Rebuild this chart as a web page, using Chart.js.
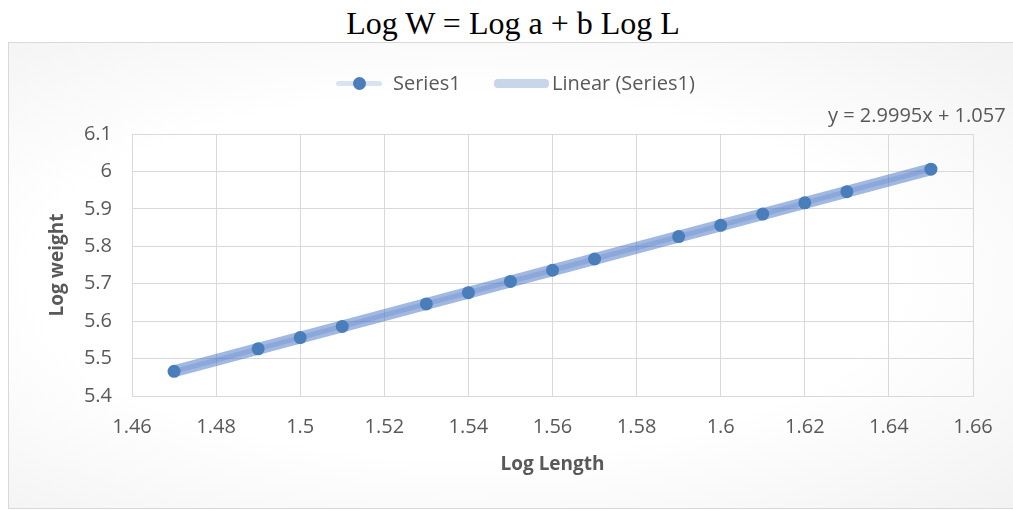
<!DOCTYPE html>
<html>
<head>
<meta charset="utf-8">
<script src="https://cdn.jsdelivr.net/npm/chart.js@4"></script>
<style>
    html, body { margin: 0; padding: 0; background: #fff; overflow: hidden; width: 1013px; height: 510px; }
    #titulo {
        position: absolute; left: 0; top: 5px; width: 1026px; text-align: center;
        font-family: "Liberation Serif", "Times New Roman", serif; font-size: 32px; color: #000;
    }
    #caixa {
        position: absolute; left: 8px; top: 42px; width: 1012px; height: 467px;
        border: 1px solid #d9d9d9; box-sizing: border-box;
        background: radial-gradient(ellipse at 45% 50%, #ffffff 55%, #f2f2f2 100%);
    }
    #legenda {
        position: absolute; left: -1px; top: 27px; width: 100%; height: 26px;
        font-family: "Open Sans", sans-serif; font-size: 20px; color: #595959;
    }
    .item { position: absolute; top: 0; line-height: 26px; }
    .linha { position: absolute; border-radius: 4px; }
</style>
</head>
<body>
<div id="titulo">Log W = Log a + b Log L</div>
<div id="caixa">
    <canvas id="grafico" width="1010" height="466"></canvas>
    <div id="legenda">
        <div class="linha" style="left:328px; top:11px; width:46px; height:5px; background:#dae3f1;"></div>
        <div class="linha" style="left:345px; top:7px; width:13px; height:13px; border-radius:50%; background:#4a7ebb;"></div>
        <div class="item" style="left:385px;">Series1</div>
        <div class="linha" style="left:486px; top:9px; width:55px; height:9px; background:#c9d6ea;"></div>
        <div class="item" style="left:544px;">Linear (Series1)</div>
    </div>
</div>
<script>
// valores
const logLength = [1.47, 1.49, 1.50, 1.51, 1.53, 1.54, 1.55, 1.56, 1.57, 1.59, 1.60, 1.61, 1.62, 1.63, 1.65];
const logWeight = [5.466, 5.526, 5.556, 5.586, 5.646, 5.676, 5.706, 5.736, 5.766, 5.826, 5.856, 5.886, 5.916, 5.946, 6.006];
const trendX = [1.47, 1.65];
const trendY = [5.466, 6.006];
const equacao = "y = 2.9995x + 1.057";

const fonte = { family: "Open Sans, sans-serif", size: 20 };
const cinza = "#595959";

const pontos = logLength.map((x, i) => ({ x: x, y: logWeight[i] }));
const tendencia = trendX.map((x, i) => ({ x: x, y: trendY[i] }));

// texto da equação da linha de tendência
const equacaoPlugin = {
    id: "equacao",
    afterDraw(chart) {
        const c = chart.ctx;
        c.save();
        c.font = "20px Open Sans, sans-serif";
        c.fillStyle = cinza;
        c.textBaseline = "middle";
        c.fillText(equacao, 819, 73);
        c.restore();
    }
};

const ctx = document.getElementById("grafico").getContext("2d");
new Chart(ctx, {
    type: "scatter",
    data: {
        datasets: [
            {
                label: "Linear (Series1)",
                data: tendencia,
                showLine: true,
                borderColor: "rgba(68,114,196,0.5)",
                borderWidth: 12,
                pointRadius: 0,
                order: 2
            },
            {
                label: "Series1",
                data: pontos,
                showLine: true,
                borderColor: "rgba(68,114,196,0.22)",
                borderWidth: 5,
                pointRadius: 6.5,
                pointBackgroundColor: "#4a7ebb",
                pointBorderWidth: 0,
                order: 1
            }
        ]
    },
    plugins: [equacaoPlugin],
    options: {
        responsive: false,
        animation: false,
        layout: { padding: { top: 91, right: 46, bottom: 0, left: 0 } },
        plugins: {
            legend: { display: false },
            tooltip: { enabled: false }
        },
        scales: {
            x: {
                type: "linear",
                min: 1.46,
                max: 1.66,
                afterFit: (s) => { s.height = 113; },
                ticks: { stepSize: 0.02, color: cinza, font: fonte, padding: 19, maxRotation: 0,
                         callback: (v) => String(+v.toFixed(2)) },
                grid: { color: "#d9d9d9", drawTicks: false },
                border: { color: "#d9d9d9" },
                title: { display: true, text: "Log Length", color: cinza, padding: { top: 0, bottom: 33 },
                         font: { family: fonte.family, size: 19, weight: "bold" } }
            },
            y: {
                type: "linear",
                min: 5.4,
                max: 6.1,
                afterFit: (s) => { s.width = 123; },
                ticks: { stepSize: 0.1, color: cinza, font: fonte, padding: 20,
                         callback: (v) => String(+v.toFixed(1)) },
                grid: { color: "#d9d9d9", drawTicks: false },
                border: { color: "#d9d9d9" },
                title: { display: true, text: "Log weight", color: cinza, padding: { top: 37, bottom: 0 },
                         font: { family: fonte.family, size: 19, weight: "bold" } }
            }
        }
    }
});
</script>
</body>
</html>
